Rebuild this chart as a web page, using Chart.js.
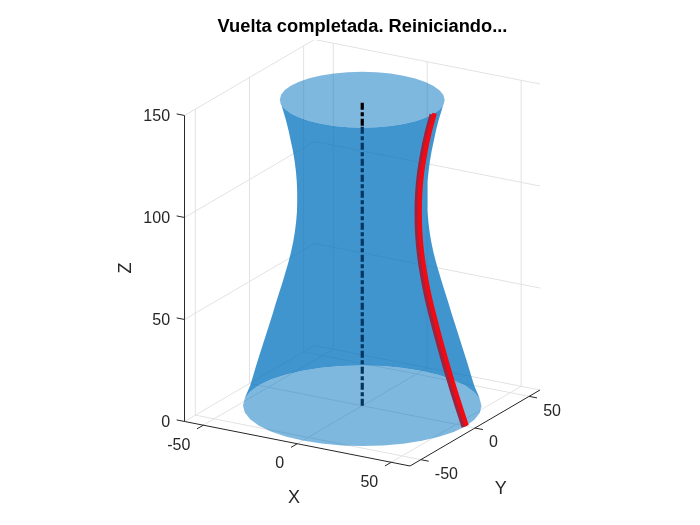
<!DOCTYPE html>
<html>
<head>
<meta charset="utf-8">
<style>html,body{margin:0;padding:0;background:#fff}canvas{display:block}</style>
<script src="https://cdn.jsdelivr.net/npm/chart.js@4"></script>
</head>
<body>
<canvas id="c" width="700" height="525"></canvas>
<script>
// ---- data ----
const titleText = "Vuelta completada. Reiniciando...";
const xTicks = [-50, 0, 50];
const yTicks = [-50, 0, 50];
const zTicks = [0, 50, 100, 150];
const axisLimit = 60;
const zTop = 150;
// waist profile of the surface: height and radius
const zLevels = [150,145,140,135,130,125,120,115,110,105,100,95,90,85,80,75,70,65,60,55,50,45,40,35,30,25,20,15,10,4];
const radii =   [38,36.6,35.2,34,33,32,31.2,30.6,30.2,30,30,30.1,30.5,31.1,31.9,32.9,34.1,35.5,36.9,38.4,39.9,41.3,42.8,44.3,45.8,47.3,48.8,50.2,51.6,54];
const bottomRadius = 55;
const topRadius = 38;
const capAngles = [0,10,20,30,40,50,60,70,80,90,100,110,120,130,140,150,160,170,180,190,200,210,220,230,240,250,260,270,280,290,300,310,320,330,340,350];
// the travelling curve on the surface
const curveZ = [150,140,130,120,110,100,90,80,70,60,50,40,30,20,10,0];
const curveR = [38,35.2,33,31.3,30.3,30,30.3,31.3,33,35.2,38,41,44.2,47.6,51.2,55];
// centre axis
const axisZ = [0, 137.3, 149];

// ---- view of the 3D box onto the page ----
const view = {cx:362.25, cy:405.75, xx:1.879, xy:1.083, yx:0.371, yy:-0.633, yz:-2.04};
const P = (x,y,z)=>({x:view.cx+view.xx*x+view.xy*y, y:view.cy+view.yx*x+view.yy*y+view.yz*z});
const polar = (r,deg,z)=>P(r*Math.cos(deg*Math.PI/180), r*Math.sin(deg*Math.PI/180), z);
const titleH = 40;
const leftPad = 25;
const L = axisLimit;

// grid
const grid = [];
const seg = (a,b)=>{grid.push(a,b,{x:a.x,y:null});};
xTicks.forEach(t=>{ seg(P(t,-L,0),P(t,L,0)); seg(P(t,L,0),P(t,L,zTop)); });
yTicks.forEach(t=>{ seg(P(-L,t,0),P(L,t,0)); seg(P(-L,t,0),P(-L,t,zTop)); });
zTicks.forEach(t=>{ seg(P(-L,-L,t),P(-L,L,t)); seg(P(-L,L,t),P(L,L,t)); });

// axes and tick marks
const axes = [];
const axSeg = (a,b)=>{axes.push(a,b,{x:a.x,y:null});};
axSeg(P(-L,-L,0),P(-L,-L,zTop));
axSeg(P(-L,-L,0),P(L,-L,0));
axSeg(P(L,-L,0),P(L,L,0));
xTicks.forEach(t=>axSeg(P(t,-L,0),P(t,-L-5.8,0)));
yTicks.forEach(t=>axSeg(P(L,t,0),P(L+4.2,t,0)));
zTicks.forEach(t=>axSeg(P(-L,-L,t),P(-L-4.2,-L,t)));

// surface outline, leaving out the two caps
const body = [];
zLevels.forEach((z,i)=>body.push(polar(radii[i],210,z)));
[200,190,180,170,160,150,140,130,120,110,100,90,80,70,60,50,40].forEach(a=>body.push(polar(bottomRadius,a,0)));
zLevels.slice().reverse().forEach((z,i)=>body.push(polar(radii[zLevels.length-1-i],30,z)));
[20,10,0,350,340,330,320,310,300,290,280,270,260,250,240,230,220].forEach(a=>body.push(polar(topRadius,a,zTop)));
const bottomCap = capAngles.map(a=>polar(bottomRadius,a,0));
const topCap = capAngles.map(a=>polar(topRadius,a,zTop));

const line = (data,color,width,order,extra)=>Object.assign({data,borderColor:color,borderWidth:width,order,pointRadius:0,showLine:true,fill:false,tension:0,spanGaps:false,borderCapStyle:'butt'},extra||{});
const shape = (data,color,order)=>({data,backgroundColor:color,borderColor:'rgba(0,0,0,0)',borderWidth:0,order,pointRadius:0,showLine:true,fill:'shape',tension:0});

const textPlugin = {
  id:'axisText',
  afterDraw(chart){
    const c = chart.ctx;
    const sx = chart.scales.x, sy = chart.scales.y;
    c.save();
    c.fillStyle = '#262626';
    c.textBaseline='middle';
    c.font = '16px "Liberation Sans"';
    const put=(s,x,y)=>c.fillText(s,sx.getPixelForValue(x),sy.getPixelForValue(y));
    c.textAlign='right';
    zTicks.forEach(t=>{ const p=P(-L,-L,t); put(String(t),p.x-14.5,p.y+0.8); });
    xTicks.forEach(t=>{ const p=P(t,-L,0); put(String(t),p.x-13,p.y+20.2); });
    c.textAlign='left';
    yTicks.forEach(t=>{ const p=P(L,t,0); put(String(t),p.x+14,p.y+15); });
    c.textAlign='center';
    c.font = '18px "Liberation Sans"';
    put('X',294,498); put('Y',500.7,489);
    c.translate(sx.getPixelForValue(126),sy.getPixelForValue(268));
    c.rotate(-Math.PI/2);
    c.fillText('Z',0,0);
    c.restore();
  }
};

new Chart(document.getElementById('c'),{
  type:'scatter',
  data:{datasets:[
    line(curveZ.map((z,i)=>P(curveR[i],0.9,z)),'#f00a14',4.5,1,{tension:0.3}),
    line(curveZ.map((z,i)=>P(curveR[i],-1,z)),'#9c2440',6,2,{tension:0.3}),
    line(axisZ.slice(1).map(z=>P(0,0,z)),'#000000',3.2,3,{borderDash:[7,2.5,4,2.5]}),
    line(axisZ.slice(0,2).map(z=>P(0,0,z)),'#00365f',3.2,4,{borderDash:[7,2.5,4,2.5]}),
    shape(topCap,'rgba(0,114,189,0.5)',5),
    shape(bottomCap,'rgba(0,114,189,0.5)',6),
    shape(body,'rgba(0,114,189,0.75)',7),
    line(axes,'#262626',1,8),
    line(grid,'#e2e2e2',1,9)
  ]},
  plugins:[textPlugin],
  options:{
    responsive:false, animation:false, events:[],
    layout:{padding:{left:leftPad}},
    plugins:{
      legend:{display:false}, tooltip:{enabled:false},
      title:{display:true,fullSize:false,text:titleText,color:'#000',font:{family:'"Liberation Sans"',size:18.3,weight:'bold',lineHeight:1.2},padding:{top:16,bottom:2.04}}
    },
    scales:{
      x:{type:'linear',min:leftPad,max:700,display:false},
      y:{type:'linear',min:titleH,max:525,reverse:true,display:false}
    }
  }
});
</script>
</body>
</html>
